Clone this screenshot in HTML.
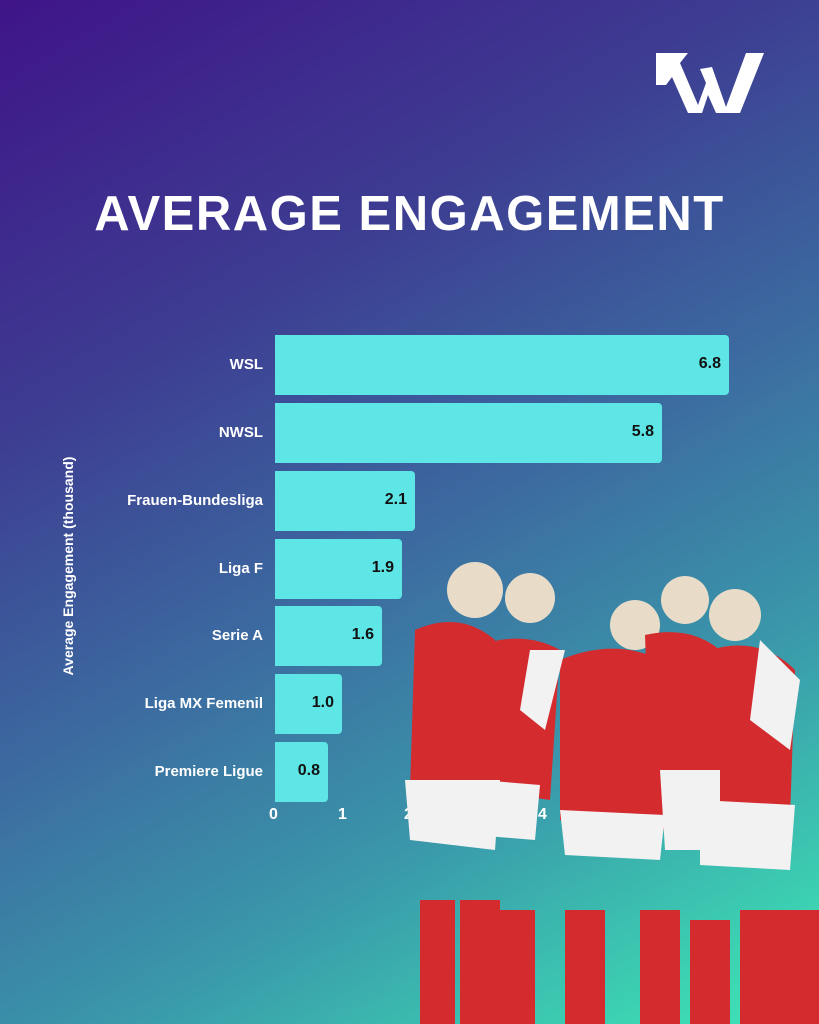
<!DOCTYPE html>
<html><head><style>
body{margin:0}
#c{position:relative;width:819px;height:1024px;overflow:hidden;font-family:"Liberation Sans",sans-serif;
background:linear-gradient(150deg,#3f1488 0%,#3d3e92 30%,#3c6aa0 52%,#3a96aa 72%,#3cd2b2 92%,#40e6b8 100%);}
.t{position:absolute;left:0;width:819px;top:186px;text-align:center;color:#fff;font-weight:bold;font-size:49px;letter-spacing:1.5px;white-space:nowrap}
.bar{position:absolute;left:275px;height:60px;background:#5ee6e6;border-radius:0 4px 4px 0}
.v{position:absolute;right:8px;top:20px;font-weight:bold;font-size:16px;color:#111}
.l{position:absolute;right:556px;color:#fff;font-weight:bold;font-size:15px;white-space:nowrap}
.tk{position:absolute;top:806px;color:#fff;font-weight:bold;font-size:16px}
.ax{position:absolute;left:-82px;top:558px;transform:rotate(-90deg);transform-origin:center;width:300px;color:#fff;font-weight:bold;font-size:14px;text-align:center;white-space:nowrap}
</style></head><body><div id="c">
<svg style="position:absolute;left:650px;top:45px" width="115" height="72" viewBox="0 0 115 72">
<polygon fill="#fff" points="6,8 38,8 30,18 48,60 56,38 50,24 62,22 76,62 96,8 114,8 90,68 66,68 58,50 52,68 38,68 22,32 16,40 6,40"/>
</svg>
<div class="t">AVERAGE ENGAGEMENT</div>
<div class="ax">Average Engagement (thousand)</div>
<div class="bar" style="top:335px;width:454px"><span class="v">6.8</span></div>
<div class="bar" style="top:403px;width:387px"><span class="v">5.8</span></div>
<div class="bar" style="top:471px;width:140px"><span class="v">2.1</span></div>
<div class="bar" style="top:539px;width:127px"><span class="v">1.9</span></div>
<div class="bar" style="top:606px;width:107px"><span class="v">1.6</span></div>
<div class="bar" style="top:674px;width:67px"><span class="v">1.0</span></div>
<div class="bar" style="top:742px;width:53px"><span class="v">0.8</span></div>
<div class="l" style="top:356px">WSL</div>
<div class="l" style="top:424px">NWSL</div>
<div class="l" style="top:492px">Frauen-Bundesliga</div>
<div class="l" style="top:560px">Liga F</div>
<div class="l" style="top:627px">Serie A</div>
<div class="l" style="top:695px">Liga MX Femenil</div>
<div class="l" style="top:763px">Premiere Ligue</div>
<div class="tk" style="left:269px">0</div>
<div class="tk" style="left:338px">1</div>
<div class="tk" style="left:404px">2</div>
<div class="tk" style="left:538px">4</div>
<svg style="position:absolute;left:400px;top:550px" width="419" height="474">
<g fill="#e8dcc8"><circle cx="75" cy="40" r="28"/><circle cx="130" cy="48" r="25"/><circle cx="235" cy="75" r="25"/><circle cx="285" cy="50" r="24"/><circle cx="335" cy="65" r="26"/></g>
<g fill="#d42b2f">
<path d="M15,80 Q60,60 95,90 L100,250 L10,240 Z"/>
<path d="M80,95 Q125,80 160,100 L150,250 L80,240 Z"/>
<path d="M160,110 Q220,85 270,115 L265,280 L160,270 Z"/>
<path d="M245,85 Q290,75 320,100 L315,230 L250,230 Z"/>
<path d="M310,100 Q360,85 395,120 L390,270 L300,260 Z"/>
<rect x="20" y="350" width="35" height="124"/><rect x="60" y="350" width="40" height="124"/><rect x="95" y="360" width="40" height="114"/>
<rect x="165" y="360" width="40" height="114"/><rect x="240" y="360" width="40" height="114"/><rect x="290" y="370" width="40" height="104"/><rect x="340" y="360" width="40" height="114"/><rect x="380" y="360" width="39" height="114"/>
</g>
<g fill="#f2f2f2">
<path d="M5,230 L100,230 L95,300 L10,290 Z"/><path d="M80,230 L140,235 L135,290 L75,285 Z"/>
<path d="M160,260 L265,265 L260,310 L165,305 Z"/><path d="M260,220 L320,220 L320,300 L265,300 Z"/><path d="M300,250 L395,255 L390,320 L300,315 Z"/>
<path d="M130,100 L165,100 L145,180 L120,160 Z"/><path d="M360,90 L400,130 L390,200 L350,170 Z"/>
</g>
</svg>
</div></body></html>
